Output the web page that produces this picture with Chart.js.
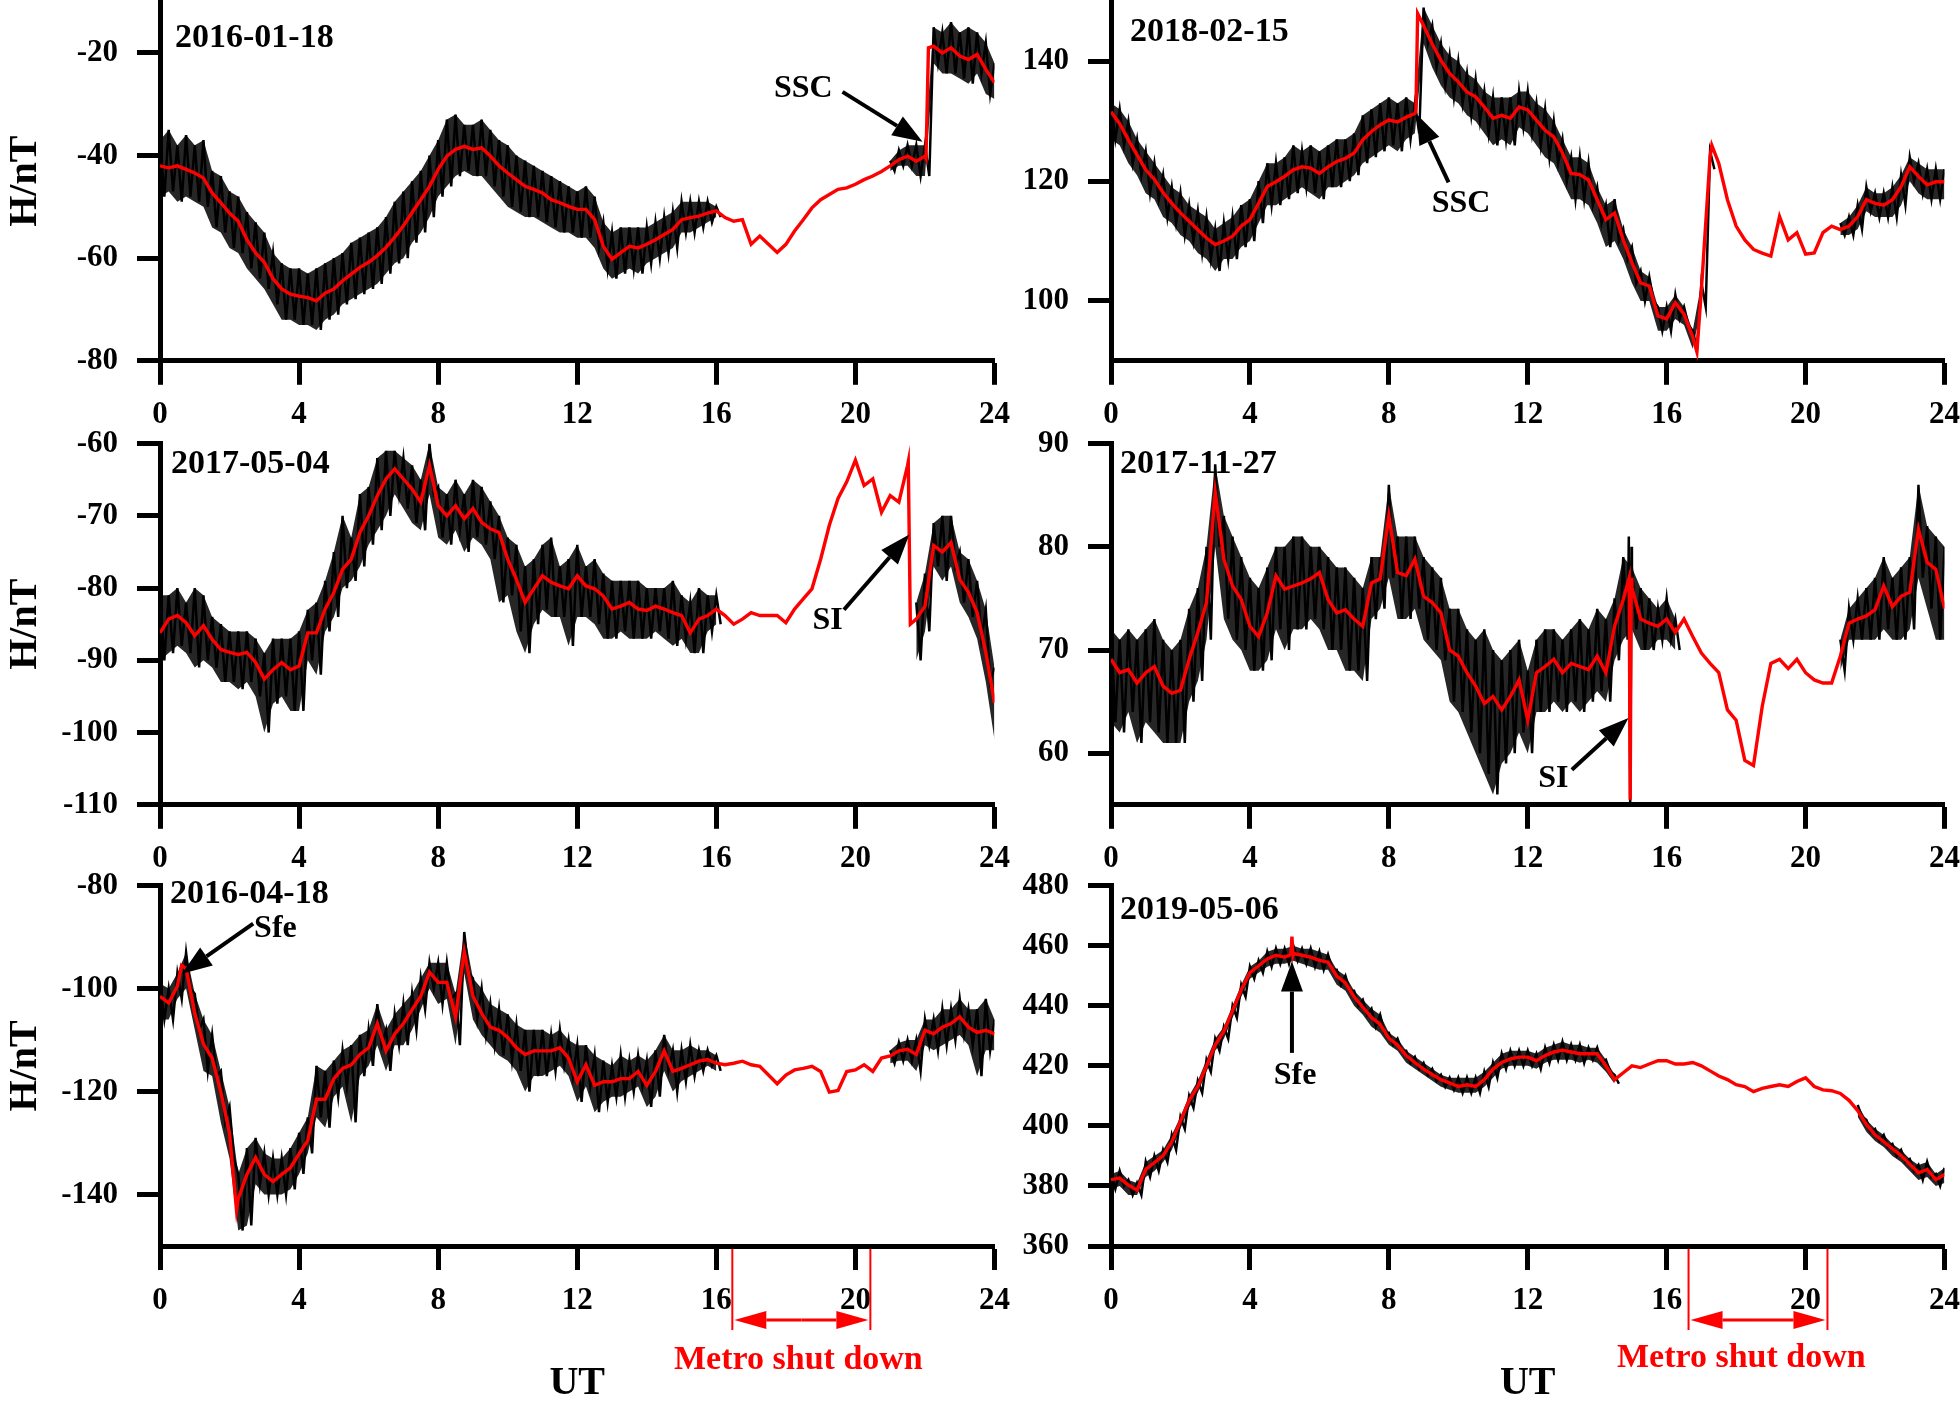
<!DOCTYPE html>
<html><head><meta charset="utf-8">
<script src="https://cdn.jsdelivr.net/npm/chart.js@4.4.1/dist/chart.umd.min.js"></script>
<style>
html,body{margin:0;padding:0;background:#fff;width:1960px;height:1401px;overflow:hidden;position:relative}
canvas{position:absolute;left:0;top:0}
</style></head><body>
<canvas id="c1"></canvas><canvas id="c2"></canvas><canvas id="c3"></canvas>
<canvas id="c4"></canvas><canvas id="c5"></canvas><canvas id="c6"></canvas>
<script>
// ---- sampling grid (hours UT, every 15 min) ----
const T = []; for (let i = 0; i <= 96; i++) T.push(i / 4);
const xTicks = [0, 4, 8, 12, 16, 20, 24];

// ---- Panel 1: 2016-01-18 ----
const p1Red = [-42,-42.4,-42,-42.7, -43.4,-44.4,-47.3,-49.2, -51.2,-52.8,-56.4,-59, -60.8,-64,-66,-67,
 -67.4,-67.7,-68.3,-66.8, -66,-64.4,-63.1,-61.8, -60.8,-59.5,-57.9,-55.9, -53.7,-51.1,-48.6,-46,
 -42.7,-40.1,-38.8,-38.2, -38.8,-38.5,-40.1,-42, -43.4,-44.7,-46,-46.6, -47.3,-48.6,-49.2,-49.9,
 -50.5,-50.5,-52.5,-57.7, -60.2,-58.9,-57.7,-58, -57.3,-56.4,-55.4,-54.4, -52.5,-52.1,-51.8,-51.2,
 -50.8,-52.1,-52.8,-52.5, -57.3,-55.7,-57.3,-58.9, -57.3,-54.7,-52.5,-50.2, -48.6,-47.6,-46.6,-46.3,
 -45.6,-44.7,-44,-43.1, -42,-40.8,-40.1,-41.1, -40.1,-18.7,-20,-19, -20.6,-21.3,-20.3,-23.2, -25.8];
const p1RedExtra = [[22.03,-40.5],[22.1,-19]];
const p1Hi = [-37,-35,-38,-36, -38,-37,-43,-44, -47,-48,-51,-53, -55,-59,-61,-62,
 -62,-63,-62,-61, -60,-59,-57,-56, -55,-54,-52,-49, -47,-45,-43,-40,
 -37,-33,-32,-34, -34,-33,-35,-37, -38,-40,-41,-42, -43,-44,-45,-46,
 -47,-46,-48,-53, -55,-54,-54,-54, -54,-53,-52,-51, -49,-49,-49,-49,
 -50,null,null,null, null,null,null,null, null,null,null,null, null,null,null,null,
 null,null,null,null, -41,-39,-38,-38, -38,-15,-16,-14, -16,-15,-16,-18, -22];
const p1Lo = [-48,-47,-49,-48, -49,-50,-54,-55, -58,-59,-62,-64, -66,-69,-72,-72,
 -73,-73,-74,-72, -71,-69,-68,-67, -66,-65,-63,-61, -60,-57,-55,-52,
 -48,-46,-44,-43, -44,-44,-46,-48, -50,-51,-52,-52, -53,-54,-55,-55,
 -56,-56,-58,-62, -64,-63,-62,-63, -61,-60,-59,-58, -55,-55,-54,-53,
 -52,null,null,null, null,null,null,null, null,null,null,null, null,null,null,null,
 null,null,null,null, -43,-42,-42,-44, -44,-22,-24,-24, -25,-26,-24,-28, -29];
const p1YTicks = [-80,-60,-40,-20];

// ---- Panel 2: 2018-02-15 ----
const p2Red = [131.6,129.6,126.9,124.4, 121.9,120.3,118.1,116.3, 114.7,113.3,111.9,110.5, 109.4,110,110.8,112.5,
 113.6,116.3,119.1,119.9, 120.8,121.9,122.4,122.2, 121.3,122.4,123.3,123.8, 124.7,126.9,128.3,129.4,
 130.2,129.9,130.7,131.3, 146,142.9,140.2,138, 136.6,134.9,134.1,132.4, 130.5,131,130.5,132.4,
 131.9,130.2,128.5,127.4, 124.7,121.3,121.1,120.2, 116.9,113.6,114.7,110.2, 106.4,103,102.5,97.5,
 97,99.7,97.8,94, 101.9,124.1,123,116.9, 112.5,110.2,108.6,108, 107.5,114.1,110.2,111.4,
 107.8,108,111.4,112.5, 111.9,112.5,114.1,116.9, 116.3,116,116.9,119.1, 122.4,120.8,119.4,119.9, 119.9];
const p2RedExtra = [[8.78,131.8],[8.83,148],[16.87,91.5],[17.3,126]];
const p2Hi = [133,132,130,127, 125,123,121,119, 118,116,115,114, 112,113,114,116,
 117,120,123,123, 124,126,125,126, 125,126,127,127, 128,131,132,133,
 134,133,134,133, 149,146,143,141, 140,138,137,135, 134,134,134,135,
 135,133,132,130, 127,124,124,123, 119,116,117,112, 109,105,104,99,
 99,101,99,95, 103,125,null,null, null,null,null,null, null,null,null,null,
 null,null,null,null, 113,114,116,119, 118,118,119,121, 124,123,122,122, 122];
const p2Lo = [127,126,123,121, 118,117,114,113, 111,110,108,107, 105,107,107,109,
 110,113,116,116, 117,118,119,118, 117,119,119,120, 121,123,124,125,
 126,125,127,128, 143,139,136,134, 133,131,130,128, 126,127,126,129,
 128,126,124,123, 120,117,117,116, 113,109,110,107, 103,100,100,95,
 95,97,96,92, 99,122,null,null, null,null,null,null, null,null,null,null,
 null,null,null,null, 111,111,112,115, 114,114,114,116, 120,118,117,117, 117];
const p2YTicks = [100,120,140];

// ---- Panel 3: 2017-05-04 ----
const p3Red = [-86.2,-84.3,-83.8,-84.8, -86.6,-85.2,-87.1,-88.5, -88.9,-89.2,-88.9,-90.3, -92.6,-91.3,-90.3,-91.3,
 -90.8,-86.2,-86.2,-82.9, -80.6,-77.4,-76,-72.3, -70,-67.2,-64.9,-63.5, -64.9,-66.3,-68.1,-63,
 -68.6,-70,-68.6,-70.4, -69,-70.9,-71.8,-72.3, -76,-78.8,-82,-80.1, -78.3,-79.2,-79.7,-80.1,
 -78.3,-79.7,-80.1,-81.1, -82.9,-82.5,-82,-82.9, -83.1,-82.5,-82.9,-83.4, -83.8,-86.2,-84.3,-83.8,
 -82.9,-83.8,-85,-84.3, -83.4,-83.8,-83.8,-83.8, -84.8,-82.9,-81.5,-80.1, -76,-71.3,-67.6,-65.3,
 -62.3,-65.8,-64.9,-69.5, -67.2,-68.1,-63,-84.3, -82.5,-74.1,-75,-73.7, -78.8,-80.6,-83.4,-88.9, -95.9];
const p3RedExtra = [[21.52,-62.5],[21.58,-85]];
const p3Hi = [-81,-81,-80,-82, -80,-81,-84,-85, -86,-86,-86,-87, -89,-87,-87,-87,
 -86,-83,-82,-79, -75,-70,-73,-67, -66,-62,-61,-61, -62,-63,-65,-60,
 -66,-67,-65,-67, -65,-66,-68,-70, -73,-74,-77,-76, -74,-73,-77,-76,
 -74,-77,-76,-78, -79,-79,-79,-79, -80,-80,-80,-79, -81,-82,-80,-81,
 -81,null,null,null, null,null,null,null, null,null,null,null, null,null,null,null,
 null,null,null,null, null,null,null,-82, -78,-71,-70,-70, -75,-76,-79,-83, -91];
const p3Lo = [-90,-89,-88,-89, -91,-90,-91,-93, -93,-94,-93,-95, -100,-96,-95,-97,
 -97,-90,-92,-86, -84,-80,-79,-77, -74,-72,-70,-67, -69,-71,-72,-67,
 -73,-74,-72,-75, -73,-74,-76,-82, -81,-86,-89,-85, -83,-84,-84,-88,
 -84,-84,-85,-87, -87,-86,-87,-87, -87,-86,-87,-88, -87,-89,-89,-86,
 -85,null,null,null, null,null,null,null, null,null,null,null, null,null,null,null,
 null,null,null,null, null,null,null,-90, -86,-77,-79,-77, -82,-84,-87,-93, -101];
const p3YTicks = [-110,-100,-90,-80,-70,-60];

// ---- Panel 4: 2017-11-27 ----
const p4Red = [69.1,67.8,68.1,66.8, 67.8,68.4,66.5,65.8, 66.1,69.1,71.7,74.6, 85.3,78.8,76.2,74.9,
 72.3,71.3,73.6,77.2, 75.9,76.2,76.5,76.9, 77.5,74.9,73.6,73.9, 73,72.3,76.5,76.9,
 83,77.5,77.2,78.8, 75.2,74.6,73.6,70, 69.4,67.8,66.5,64.8, 65.5,64.2,65.5,67.1,
 63.2,67.8,68.4,69.1, 67.8,68.7,68.4,68.1, 69.4,67.8,72.3,74.9, 76,73,72.6,72.3,
 73,71.7,73,71.3, 69.7,68.7,67.8,64.2, 63.2,59.3,58.8,64.5, 68.7,69.1,68.2,69.1,
 67.8,67.1,66.8,66.8, 69.4,72.6,73,73.3, 73.9,76.2,74.2,75.2, 75.6,81.7,78.5,77.8, 74];
const p4RedExtra = [[14.92,77],[14.95,55.5],[14.98,77]];
const p4Hi = [72,71,72,71, 72,73,71,70, 71,74,76,80, 88,83,81,79,
 77,76,78,80, 80,81,81,80, 80,79,78,78, 77,76,79,79,
 86,81,81,81, 79,78,77,74, 74,72,71,72, 70,69,70,71,
 68,71,72,72, 71,72,73,72, 74,73,75,79, 78,76,75,74,
 75,73,null,null, null,null,null,null, null,null,null,null, null,null,null,null,
 null,null,null,null, 71,74,75,76, 77,79,77,78, 79,86,82,81, 80];
const p4Lo = [63,62,64,61, 63,62,61,61, 61,65,67,71, 80,73,71,70,
 68,68,69,72, 70,72,72,73, 72,70,70,68, 68,67,73,74,
 77,73,73,74, 71,70,69,65, 64,62,60,58, 56,59,60,62,
 60,64,64,65, 64,65,64,65, 66,65,69,71, 72,70,70,71,
 71,70,null,null, null,null,null,null, null,null,null,null, null,null,null,null,
 null,null,null,null, 68,71,71,71, 71,72,71,71, 72,77,74,71, 71];
const p4BlackExtra = [[14.91,81],[14.95,55],[14.99,80]];
const p4YTicks = [60,70,80,90];

// ---- Panel 5: 2016-04-18 ----
const p5Red = [-101.5,-102.8,-99.5,-96.1, -104.8,-110.8,-113.5,-120.1, -128.1,-140.8,-136.1,-132.8, -136.1,-137.5,-136.1,-134.8,
 -132.1,-129.5,-121.5,-121.5, -117.5,-115.5,-114.8,-112.8, -111.5,-106.8,-112.1,-108.8, -106.8,-104.1,-101.5,-96.8,
 -98.8,-98.8,-105.5,-92.8, -101.5,-104.8,-107.5,-108.1, -109.5,-111.5,-112.8,-112.1, -112.1,-112.1,-111.5,-113.5,
 -118.1,-114.8,-118.8,-118.1, -118.1,-117.5,-117.5,-116.1, -118.8,-116.1,-112.1,-116.1, -115.5,-114.8,-114.1,-113.8,
 -114.5,-114.8,-114.5,-114.1, -114.8,-115.1,-116.8,-118.5, -116.8,-115.8,-115.5,-115.1, -116.1,-120.1,-119.8,-116.1,
 -115.8,-114.8,-116.1,-113.5, -113.1,-112.1,-111.8,-112.8, -108.1,-108.8,-107.5,-106.8, -105.5,-107.5,-108.5,-108.1, -108.8];
const p5RedExtra = [[0.62,-95.5],[2.2,-143]];
const p5Hi = [-99,-100,-97,-93, -101,-106,-109,-116, -123,-136,-131,-129, -132,-133,-133,-131,
 -128,-125,-115,-116, -114,-112,-111,-109, -108,-103,-108,-105, -103,-101,-98,-95,
 -95,-95,-101,-89, -98,-100,-103,-104, -105,-107,-108,-108, -108,-109,-108,-110,
 -111,-111,-113,-114, -115,-113,-114,-113, -114,-112,-109,-112, -112,-111,-112,-112,
 -113,null,null,null, null,null,null,null, null,null,null,null, null,null,null,null,
 null,null,null,null, -112,-110.5,-110,-110, -106,-106,-104,-104, -102,-104,-104,-102, -106];
const p5Lo = [-106,-106,-102,-100, -108,-116,-117,-126, -133,-147,-146,-138, -140,-140,-140,-139,
 -136,-132,-125,-127, -121,-119,-126,-117, -115,-111,-116,-111, -111,-108,-104,-100,
 -103,-102,-111,-97, -106,-109,-111,-113, -114,-116,-120,-117, -117,-116,-115,-117,
 -122,-119,-124,-122, -121,-121,-120,-119, -123,-121,-116,-120, -118,-117,-116,-115,
 -116,null,null,null, null,null,null,null, null,null,null,null, null,null,null,null,
 null,null,null,null, -114.5,-114,-114,-116, -111,-112,-111,-110, -109,-111,-117,-112, -112];
const p5YTicks = [-140,-120,-100,-80];

// ---- Panel 6: 2019-05-06 ----
const p6Red = [382.1,382.6,380.3,378.6, 385.5,387.8,390.1,394.7, 401.6,408.5,413.1,420, 426.9,431.5,438.4,445.3,
 451,453.3,455.6,456.8, 456.2,457.4,456.8,456.2, 455.1,454.5,449.9,447.6, 443,439.5,436.1,433.8,
 429.2,426.9,423.4,421.1, 418.9,417.1,415.4,414.3, 413.1,413.7,413.1,415.4, 418.9,421.1,422.3,422.9,
 422.9,421.7,423.4,424.6, 425.2,424.6,424,424, 424,420,415.4,417.7, 420,419.4,420.6,421.7,
 421.7,420.6,420.6,421.1, 420,418.3,416.6,415.4, 413.7,413.1,411.4,412.5, 413.1,413.7,413.1,414.8,
 416,413.1,412,411.7, 410.8,408.5,405.1,400.5, 397,394.7,392.4,390.1, 387.2,384.4,385.5,382.1, 383.8];
const p6RedExtra = [[5.18,457],[5.21,463],[5.24,457]];
const p6Hi = [384,385,382,381, 388,390,392,397, 403,410,415,422, 429,433,440,447,
 453,455,458,459, 459,460,459,459, 458,457,452,450, 445,442,439,437,
 431,429,425,423, 421,419,417,416, 416,416,416,418, 421,424,425,425,
 425,424,426,427, 428,427,427,426, 426,422,417,null, null,null,null,null,
 null,null,null,null, null,null,null,null, null,null,null,null, null,null,null,null,
 null,null,null,null, null,null,407,402, 399,397,394,392, 389,387,388,384, 386];
const p6Lo = [379,380,377,377, 383,385,388,392, 399,406,411,418, 425,429,436,443,
 449,451,453,454, 454,455,454,453, 452,452,447,445, 440,437,433,431,
 427,425,421,419, 417,415,413,412, 411,411,411,413, 416,419,420,420,
 420,419,421,422, 422,422,421,422, 421,418,414,null, null,null,null,null,
 null,null,null,null, null,null,null,null, null,null,null,null, null,null,null,null,
 null,null,null,null, null,null,403,398, 395,393,390,388, 385,382,383,380, 381];
const p6YTicks = [360,380,400,420,440,460,480];

// ---- helpers ----
const FONT = "'Liberation Serif','Times New Roman',serif";
Chart.defaults.font.family = FONT;

function redData(vals, extra) {
  const pts = vals.map((v, i) => ({x: T[i], y: v}));
  (extra || []).forEach(e => pts.push({x: e[0], y: e[1]}));
  pts.sort((a, b) => a.x - b.x);
  return pts;
}
function blackData(hi, lo, extra) {
  const pts = [];
  for (let i = 0; i < T.length; i++) {
    if (hi[i] === null) { pts.push({x: T[i], y: null}); continue; }
    pts.push({x: T[i], y: hi[i]});
    if (i < T.length - 1) pts.push({x: T[i] + 0.125, y: lo[i]});
  }
  (extra || []).forEach(e => pts.push({x: e[0], y: e[1]}));
  pts.sort((a, b) => a.x - b.x);
  return pts;
}
function envData(vals) { return vals.map((v, i) => ({x: T[i], y: v})); }

function arrow(ctx, x1, y1, x2, y2, lw, hl, hw, color) {
  const a = Math.atan2(y2 - y1, x2 - x1);
  const bx = x2 - Math.cos(a) * hl, by = y2 - Math.sin(a) * hl;
  ctx.strokeStyle = color; ctx.fillStyle = color; ctx.lineWidth = lw;
  ctx.beginPath(); ctx.moveTo(x1, y1); ctx.lineTo(bx, by); ctx.stroke();
  ctx.beginPath(); ctx.moveTo(x2, y2);
  ctx.lineTo(bx + Math.sin(a) * hw, by - Math.cos(a) * hw);
  ctx.lineTo(bx - Math.sin(a) * hw, by + Math.cos(a) * hw);
  ctx.closePath(); ctx.fill();
}
function annot(cfg) {
  return {
    id: 'annot',
    beforeDatasetsDraw(chart) {
      const {ctx, chartArea: ca} = chart;
      ctx.save();
      ctx.font = 'bold 34px ' + FONT; ctx.fillStyle = '#000';
      ctx.textAlign = 'left'; ctx.textBaseline = 'middle';
      ctx.fillText(cfg.date, ca.left + cfg.dateOff[0], ca.top + cfg.dateOff[1]);
      ctx.restore();
    },
    afterDraw(chart) {
      const {ctx, chartArea: ca, scales: {x, y}} = chart;
      ctx.save();
      (cfg.arrows || []).forEach(a => {
        arrow(ctx, x.getPixelForValue(a.tail[0]), y.getPixelForValue(a.tail[1]),
          x.getPixelForValue(a.tip[0]), y.getPixelForValue(a.tip[1]), 4, 30, 11, '#000');
        ctx.font = 'bold 32px ' + FONT; ctx.fillStyle = '#000';
        ctx.textAlign = 'center'; ctx.textBaseline = 'middle';
        ctx.fillText(a.text, x.getPixelForValue(a.at[0]), y.getPixelForValue(a.at[1]));
      });
      if (cfg.metro) {
        const m = cfg.metro, b = ca.bottom;
        const xa = x.getPixelForValue(m.lines[0]), xb = x.getPixelForValue(m.lines[1]);
        ctx.strokeStyle = '#ff0000'; ctx.lineWidth = 2;
        [xa, xb].forEach(px => { ctx.beginPath(); ctx.moveTo(px, b + 3); ctx.lineTo(px, b + 84); ctx.stroke(); });
        const ay = b + 74, mid = (xa + xb) / 2;
        arrow(ctx, mid, ay, xb - 2, ay, 3, 32, 9, '#ff0000');
        arrow(ctx, mid, ay, xa + 2, ay, 3, 32, 9, '#ff0000');
        ctx.font = 'bold 34px ' + FONT; ctx.fillStyle = '#ff0000';
        ctx.textAlign = 'center'; ctx.textBaseline = 'middle';
        ctx.fillText('Metro shut down', x.getPixelForValue(m.textX), b + m.textDy);
      }
      ctx.restore();
    }
  };
}

function config(p) {
  const tickFont = {family: FONT, size: 31, weight: 'bold'};
  return {
    type: 'line',
    data: {datasets: [
      {data: p.red, borderColor: '#ff0000', borderWidth: 3.4, pointRadius: 0, tension: 0, spanGaps: false},
      {data: p.black, borderColor: '#000000', borderWidth: 2.5, pointRadius: 0, tension: 0, spanGaps: false},
      {data: p.hi, borderWidth: 0, borderColor: 'rgba(0,0,0,0)', pointRadius: 0, tension: 0, spanGaps: false, fill: false},
      {data: p.lo, borderWidth: 0, borderColor: 'rgba(0,0,0,0)', pointRadius: 0, tension: 0, spanGaps: false,
        fill: '-1', backgroundColor: 'rgba(0,0,0,0.85)'}
    ]},
    options: {
      responsive: false, maintainAspectRatio: false, animation: false, events: [],
      layout: {padding: {left: 0, right: 18, top: 20, bottom: 0}},
      plugins: {legend: {display: false}, tooltip: {enabled: false}, filler: {propagate: false}},
      scales: {
        x: {
          type: 'linear', min: 0, max: 24,
          afterBuildTicks: s => { s.ticks = xTicks.map(v => ({value: v})); },
          ticks: {font: tickFont, color: '#000', padding: 12, maxRotation: 0, autoSkip: false},
          grid: {drawOnChartArea: false, drawTicks: true, tickLength: 24, tickWidth: 5, tickColor: '#000'},
          border: {display: true, color: '#000', width: 5},
          title: {display: !!p.ut, text: 'UT', color: '#000', font: {family: FONT, size: 40, weight: 'bold', lineHeight: 1}, padding: {top: 0, bottom: 0}},
          afterFit: s => { if (p.ut) s.height = 158; }
        },
        y: {
          type: 'linear', min: p.ymin, max: p.ymax,
          afterBuildTicks: s => { s.ticks = p.yticks.map(v => ({value: v})); },
          ticks: {font: tickFont, color: '#000', padding: 19, autoSkip: false},
          grid: {drawOnChartArea: false, drawTicks: true, tickLength: 23, tickWidth: 5, tickColor: '#000'},
          border: {display: true, color: '#000', width: 5},
          title: {display: !!p.ytitle, text: 'H/nT', color: '#000', font: {family: FONT, size: 40, weight: 'bold', lineHeight: 1.2}, padding: {top: 2, bottom: 0}},
          afterFit: s => { s.width = p.yw; }
        }
      }
    },
    plugins: [annot(p.annot)]
  };
}

function build(id, p, tgt) {
  const cv = document.getElementById(id);
  const w0 = 1040, h0 = 560;
  cv.width = w0; cv.height = h0;
  let ch = new Chart(cv, config(p));
  let ca = ch.chartArea;
  const w = Math.round(w0 + (tgt.r - tgt.l) - (ca.right - ca.left));
  const h = Math.round(h0 + (tgt.b - tgt.t) - (ca.bottom - ca.top));
  ch.destroy();
  cv.width = w; cv.height = h;
  ch = new Chart(cv, config(p));
  ca = ch.chartArea;
  cv.style.left = Math.round(tgt.l - ca.left) + 'px';
  cv.style.top = Math.round(tgt.t - ca.top) + 'px';
}

function panel(red, redEx, hi, lo, blackEx, extra) {
  return Object.assign({red: redData(red, redEx), black: blackData(hi, lo, blackEx), hi: envData(hi), lo: envData(lo)}, extra);
}

build('c1', panel(p1Red, p1RedExtra, p1Hi, p1Lo, null, {ymin: -80, ymax: -10, yticks: p1YTicks, yw: 160, ytitle: true,
  annot: {date: '2016-01-18', dateOff: [15, 37], arrows: [{tail: [19.63, -27.6], tip: [21.93, -37.3], text: 'SSC', at: [18.5, -27]}]}}),
  {l: 160, r: 994, t: 2, b: 361});
build('c2', panel(p2Red, p2RedExtra, p2Hi, p2Lo, null, {ymin: 90, ymax: 150, yticks: p2YTicks, yw: 111, ytitle: false,
  annot: {date: '2018-02-15', dateOff: [19, 31], arrows: [{tail: [9.72, 119.8], tip: [8.8, 131.2], text: 'SSC', at: [10.08, 116.3]}]}}),
  {l: 1111, r: 1944, t: 2, b: 361});
build('c3', panel(p3Red, p3RedExtra, p3Hi, p3Lo, null, {ymin: -110, ymax: -60, yticks: p3YTicks, yw: 160, ytitle: true,
  annot: {date: '2017-05-04', dateOff: [11, 21], arrows: [{tail: [19.67, -83], tip: [21.55, -72.6], text: 'SI', at: [19.2, -84.5]}]}}),
  {l: 160, r: 994, t: 444, b: 805});
build('c4', panel(p4Red, p4RedExtra, p4Hi, p4Lo, p4BlackExtra, {ymin: 55, ymax: 90, yticks: p4YTicks, yw: 111, ytitle: false,
  annot: {date: '2017-11-27', dateOff: [9, 21], arrows: [{tail: [13.27, 58.4], tip: [14.9, 63.4], text: 'SI', at: [12.74, 57.5]}]}}),
  {l: 1111, r: 1944, t: 444, b: 805});
build('c5', panel(p5Red, p5RedExtra, p5Hi, p5Lo, null, {ymin: -150, ymax: -80, yticks: p5YTicks, yw: 160, ytitle: true, ut: true,
  annot: {date: '2016-04-18', dateOff: [10, 9], arrows: [{tail: [2.68, -87.4], tip: [0.63, -97.1], text: 'Sfe', at: [3.32, -88.4]}],
    metro: {lines: [16.46, 20.43], textX: 18.36, textDy: 114}}}),
  {l: 160, r: 994, t: 886, b: 1246});
build('c6', panel(p6Red, p6RedExtra, p6Hi, p6Lo, null, {ymin: 360, ymax: 480, yticks: p6YTicks, yw: 111, ytitle: false, ut: true,
  annot: {date: '2019-05-06', dateOff: [9, 25], arrows: [{tail: [5.21, 424.3], tip: [5.21, 454.7], text: 'Sfe', at: [5.3, 416.7]}],
    metro: {lines: [16.63, 20.63], textX: 18.15, textDy: 112}}}),
  {l: 1111, r: 1944, t: 886, b: 1246});
</script></body></html>
